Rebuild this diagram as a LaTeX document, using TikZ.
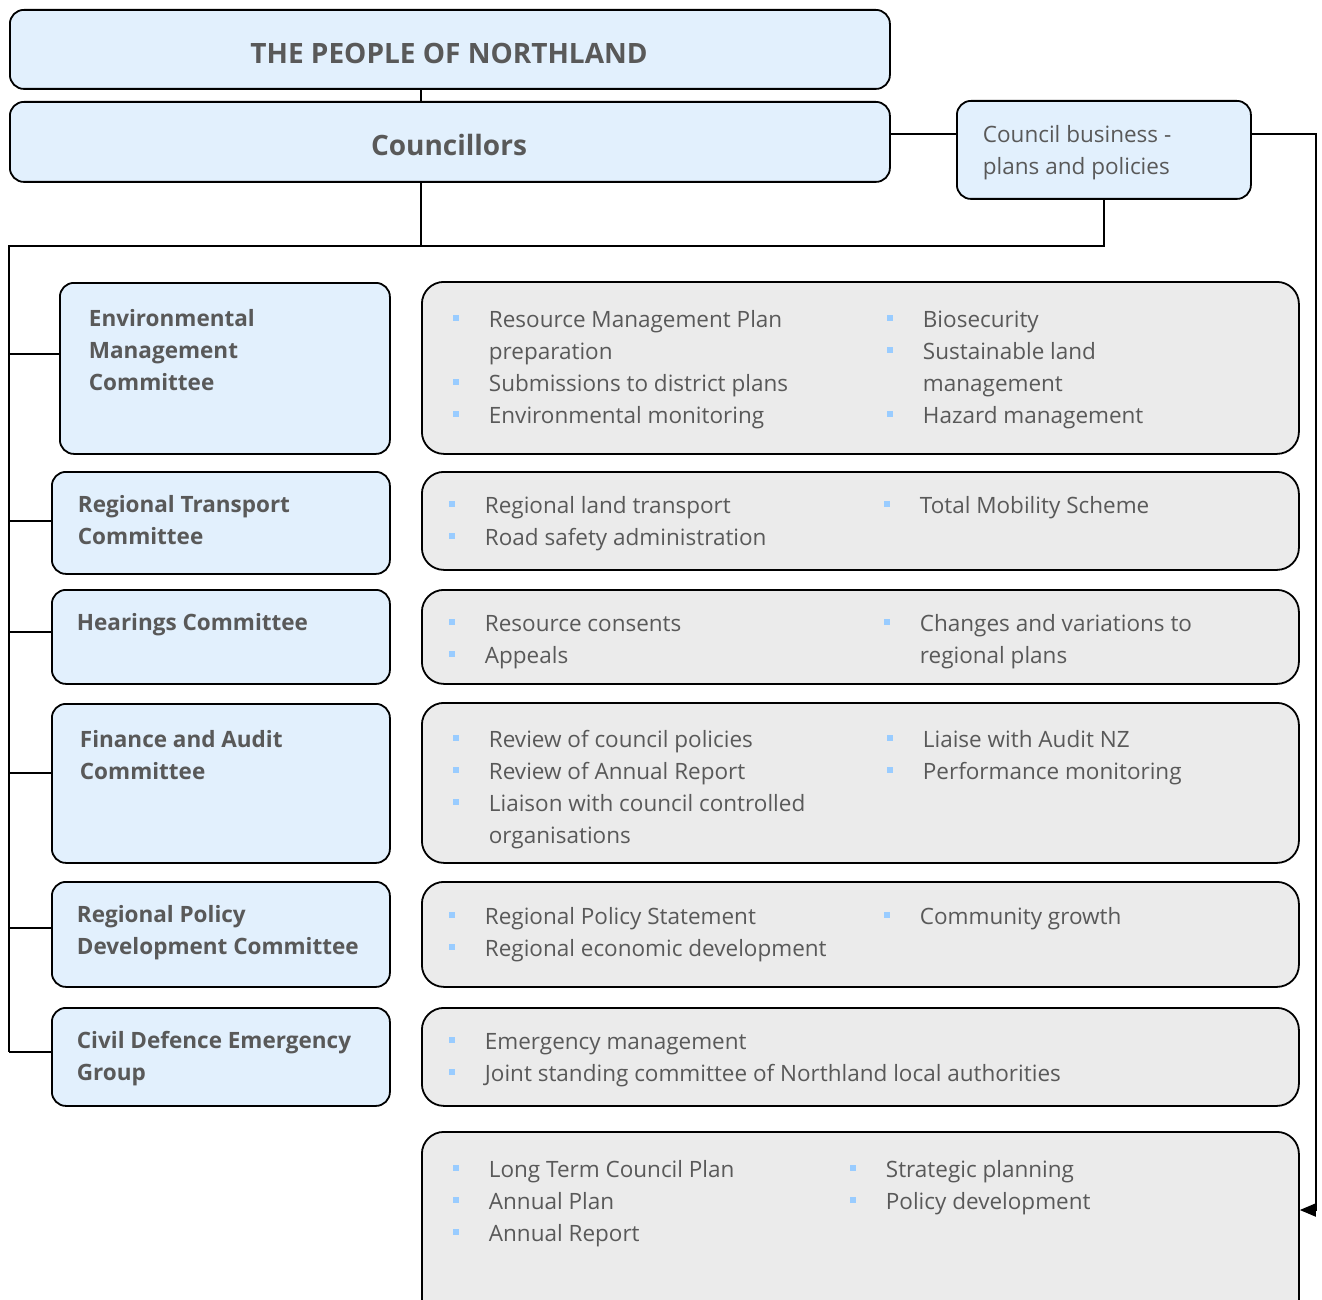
\documentclass[tikz,border=0pt]{standalone}
\usepackage{fontspec}
\setmainfont{Open Sans}
\usetikzlibrary{arrows.meta}

\definecolor{inkgray}{RGB}{89,89,89}
\definecolor{boxblue}{RGB}{226,240,253}
\definecolor{boxgray}{RGB}{235,235,235}
\definecolor{dotblue}{RGB}{153,204,255}

% bullet and hanging indent for the duty lists
\newcommand\bul{\strut\makebox[36pt][l]{\textcolor{dotblue}{\rule[7pt]{6pt}{6pt}}}}
\newcommand\ind{\strut\hspace*{36pt}}

\begin{document}
\begin{tikzpicture}[x=1pt, y=-1pt, line width=1.8pt,
    unit/.style={draw, rounded corners=14pt, fill=boxblue, anchor=north west, inner sep=0pt},
    duty/.style={draw, rounded corners=22pt, fill=boxgray, anchor=north west, inner sep=0pt},
    txt/.style={anchor=north west, inner sep=0pt, align=left, text=inkgray,
        font=\fontsize{22.5}{32}\selectfont, execute at begin node=\strut},
    head/.style={txt, font=\bfseries\fontsize{22.5}{32}\selectfont},
    big/.style={anchor=center, inner sep=0pt, text=inkgray, font=\bfseries\fontsize{28}{34}\selectfont}]
                    {
    \useasboundingbox (0,0) rectangle (1322,1300);

    \coordinate (trunk) at (421,246);
    \coordinate (rail) at (9,246);
    \coordinate (cby) at (0,134);
    \coordinate (feed) at (1316,1210);

    % top of the chart
    \node[unit, minimum width=880pt, minimum height=79pt] (people) at (9,9) {};
    \node[unit, minimum width=880pt, minimum height=80pt] (coun) at (9,101) {};
    \node[unit, minimum width=294pt, minimum height=98pt] (cbus) at (956,100) {};
    \node[big] (peoplet) at (449,53) {THE PEOPLE OF NORTHLAND};
    \node[big] (count) at (449,145) {Councillors};
    \node[txt] (cbust) at (982,124.6) {Council business -\\plans and policies};

    % committees
    \node[unit, minimum width=330pt, minimum height=171pt] (env) at (59,282) {};
    \node[unit, minimum width=338pt, minimum height=102pt] (rtc) at (51,471) {};
    \node[unit, minimum width=338pt, minimum height=94pt] (hear) at (51,589) {};
    \node[unit, minimum width=338pt, minimum height=159pt] (fin) at (51,703) {};
    \node[unit, minimum width=338pt, minimum height=105pt] (rpd) at (51,881) {};
    \node[unit, minimum width=338pt, minimum height=98pt] (cdeg) at (51,1007) {};

    \node[head] (envt) at (88,308.6) {Environmental\\Management\\Committee};
    \node[head] (rtct) at (77,494.6) {Regional Transport\\Committee};
    \node[head] (heart) at (76,607.6) {Hearings Committee};
    \node[head] (fint) at (79,729.6) {Finance and Audit\\Committee};
    \node[head] (rpdt) at (76,904.6) {Regional Policy\\Development Committee};
    \node[head] (cdegt) at (76,1030.6) {Civil Defence Emergency\\Group};

    % duties
    \node[duty, minimum width=877pt, minimum height=172pt] (envl) at (421,281) {};
    \node[duty, minimum width=877pt, minimum height=98pt] (rtcl) at (421,471) {};
    \node[duty, minimum width=877pt, minimum height=94pt] (hearl) at (421,589) {};
    \node[duty, minimum width=877pt, minimum height=160pt] (finl) at (421,702) {};
    \node[duty, minimum width=877pt, minimum height=105pt] (rpdl) at (421,881) {};
    \node[duty, minimum width=877pt, minimum height=98pt] (cdegl) at (421,1007) {};
    \node[duty, minimum width=877pt, minimum height=200pt] (plan) at (421,1131) {};

    \node[txt] (envla) at (452,304.6) {\bul Resource Management Plan\\\ind preparation\\\bul Submissions to district plans\\\bul Environmental monitoring};
    \node[txt] (envlb) at (886,304.6) {\bul Biosecurity\\\bul Sustainable land\\\ind management\\\bul Hazard management};
    \node[txt] (rtcla) at (448,490.6) {\bul Regional land transport\\\bul Road safety administration};
    \node[txt] (rtclb) at (883,490.6) {\bul Total Mobility Scheme};
    \node[txt] (hearla) at (448,608.6) {\bul Resource consents\\\bul Appeals};
    \node[txt] (hearlb) at (883,608.6) {\bul Changes and variations to\\\ind regional plans};
    \node[txt] (finla) at (452,724.6) {\bul Review of council policies\\\bul Review of Annual Report\\\bul Liaison with council controlled\\\ind organisations};
    \node[txt] (finlb) at (886,724.6) {\bul Liaise with Audit NZ\\\bul Performance monitoring};
    \node[txt] (rpdla) at (448,901.6) {\bul Regional Policy Statement\\\bul Regional economic development};
    \node[txt] (rpdlb) at (883,901.6) {\bul Community growth};
    \node[txt] (cdegla) at (448,1026.6) {\bul Emergency management\\\bul Joint standing committee of Northland local authorities};
    \node[txt] (planla) at (452,1154.6) {\bul Long Term Council Plan\\\bul Annual Plan\\\bul Annual Report};
    \node[txt] (planlb) at (849,1154.6) {\bul Strategic planning\\\bul Policy development};

    % connectors
    \draw (trunk |- people.south) -- (trunk |- coun.north);
    \draw (trunk |- coun.south) -- (trunk);
    \draw (coun.east |- cby) -- (cbus.west |- cby);
    \draw (cbus.south) |- (rail) -- (rail |- 0,1052);
    \draw (rail |- 0,354) -- (env.west |- 0,354);
    \draw (rail |- 0,521) -- (rtc.west |- 0,521);
    \draw (rail |- 0,632) -- (hear.west |- 0,632);
    \draw (rail |- 0,773) -- (fin.west |- 0,773);
    \draw (rail |- 0,928) -- (rpd.west |- 0,928);
    \draw (rail |- 0,1052) -- (cdeg.west |- 0,1052);
    \draw[-{Triangle[length=16pt,width=13pt]}] (cbus.east |- cby) -| (feed) -- (plan.east |- feed);
}
\end{tikzpicture}
\end{document}
